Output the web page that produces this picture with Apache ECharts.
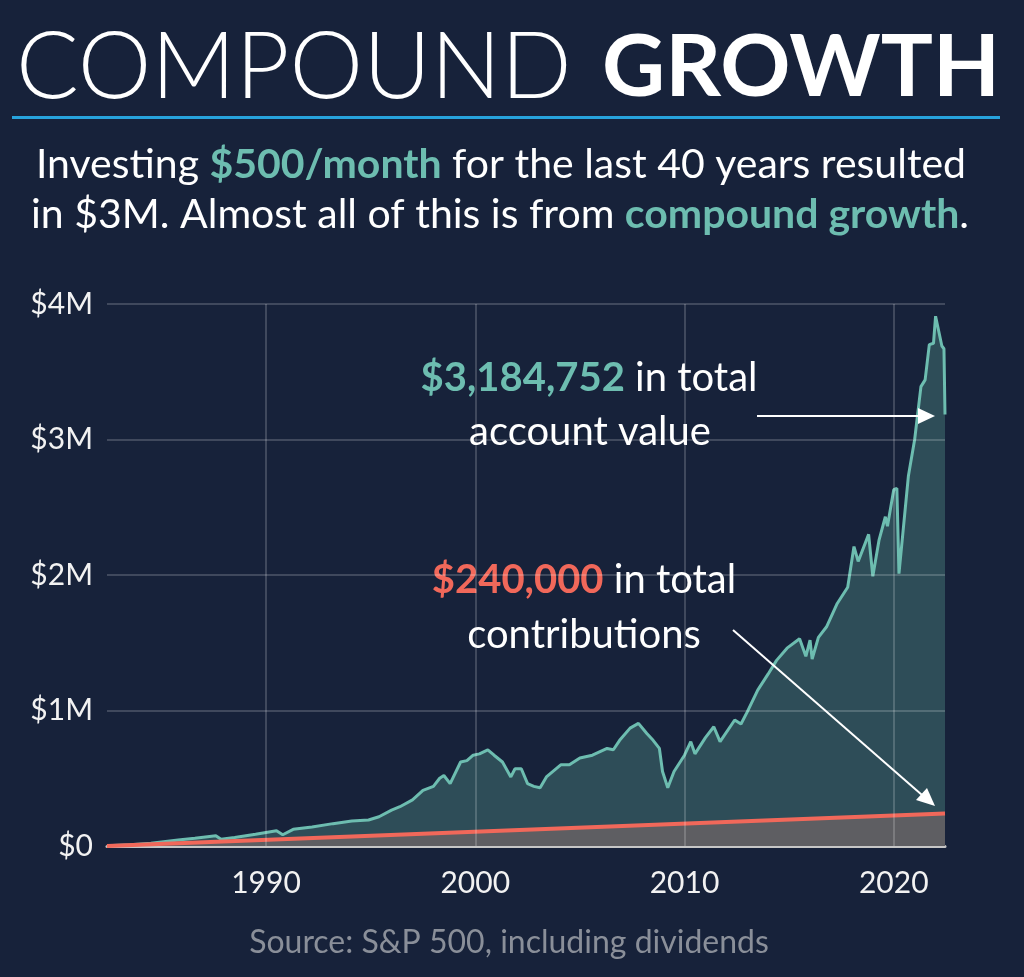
<!DOCTYPE html>
<html>
<head>
<meta charset="utf-8">
<script src="https://cdn.jsdelivr.net/npm/echarts@6/dist/echarts.min.js"></script>
<style>
  html, body { margin: 0; padding: 0; background: #17223a; }
  #main { width: 1024px; height: 977px; }
</style>
</head>
<body>
<div id="main"></div>
<script>
var myChart = echarts.init(document.getElementById('main'));

// account value (year, $ millions)
var valueYears = [1982.40, 1983.5, 1984.5, 1985.8, 1986.6, 1987.6, 1987.85, 1988.5, 1989.5, 1990.5,
  1990.8, 1991.3, 1992.2, 1993.2, 1994.1, 1994.9, 1995.4, 1996.0, 1996.4, 1997.0,
  1997.5, 1998.0, 1998.3, 1998.5, 1998.8, 1999.3, 1999.6, 1999.9, 2000.2, 2000.6,
  2000.9, 2001.3, 2001.7, 2001.9, 2002.2, 2002.5, 2002.8, 2003.1, 2003.4, 2004.1,
  2004.5, 2005.0, 2005.6, 2006.3, 2006.6, 2006.9, 2007.4, 2007.8, 2008.2, 2008.5,
  2008.8, 2008.95, 2009.2, 2009.5, 2010.0, 2010.3, 2010.5, 2011.0, 2011.4, 2011.7,
  2012.4, 2012.7, 2013.0, 2013.5, 2014.0, 2014.4, 2014.9, 2015.5, 2015.8, 2016.0,
  2016.1, 2016.4, 2016.8, 2017.3, 2017.8, 2018.1, 2018.3, 2018.8, 2019.0, 2019.3,
  2019.6, 2019.7, 2020.0, 2020.15, 2020.25, 2020.7, 2021.0, 2021.3, 2021.5, 2021.7,
  2021.9, 2022.0, 2022.3, 2022.4, 2022.45];
var accountValue = [0.002, 0.010, 0.020, 0.044, 0.058, 0.076, 0.050, 0.062, 0.086, 0.112,
  0.083, 0.123, 0.140, 0.165, 0.185, 0.192, 0.216, 0.265, 0.290, 0.340,
  0.410, 0.440, 0.500, 0.520, 0.460, 0.620, 0.630, 0.670, 0.680, 0.710,
  0.670, 0.620, 0.510, 0.570, 0.570, 0.460, 0.440, 0.430, 0.510, 0.600,
  0.600, 0.650, 0.670, 0.720, 0.710, 0.780, 0.870, 0.905, 0.830, 0.780,
  0.720, 0.550, 0.430, 0.550, 0.670, 0.770, 0.680, 0.800, 0.880, 0.770,
  0.930, 0.900, 0.990, 1.150, 1.270, 1.370, 1.460, 1.530, 1.400, 1.520,
  1.380, 1.540, 1.620, 1.790, 1.910, 2.210, 2.100, 2.300, 1.990, 2.260,
  2.430, 2.360, 2.630, 2.640, 2.010, 2.730, 3.000, 3.390, 3.440, 3.700,
  3.710, 3.910, 3.690, 3.670, 3.185];

// total contributions ($500/month)
var contribYears = [1982.40, 2022.45];
var contributions = [0, 0.24];

var xTicks = [1990, 2000, 2010, 2020];
var yTicks = [0, 1, 2, 3, 4];

var bg = '#17223a';
var teal = '#6dbdb0';
var coral = '#f1685a';
var font = 'Lato';

function pairs(xs, ys) {
  return xs.map(function (x, i) { return [x, ys[i]]; });
}

var gridLines = xTicks.map(function (v) { return { xAxis: v }; })
  .concat(yTicks.slice(1).map(function (v) { return { yAxis: v }; }));

option = {
  backgroundColor: bg,
  animation: false,
  textStyle: { fontFamily: font },
  grid: { left: 107, right: 79, top: 304, bottom: 131 },
  xAxis: {
    type: 'value',
    min: 1982.4,
    max: 2022.45,
    splitLine: { show: false },
    axisTick: { show: false },
    axisLine: { show: true, lineStyle: { color: '#c6c6c6', width: 3 } },
    axisLabel: {
      customValues: xTicks,
      color: '#f2f2f2',
      fontSize: 30,
      fontFamily: font,
      margin: 22,
      formatter: function (v) { return String(v); }
    }
  },
  yAxis: {
    type: 'value',
    min: 0,
    max: 4,
    interval: 1,
    splitLine: { show: false },
    axisLine: { show: false },
    axisTick: { show: false },
    axisLabel: {
      color: '#f2f2f2',
      fontSize: 30,
      fontFamily: font,
      margin: 14,
      formatter: function (v) { return v === 0 ? '$0' : '$' + v + 'M'; }
    }
  },
  series: [
    {
      name: 'account value',
      type: 'line',
      data: pairs(valueYears, accountValue),
      showSymbol: false,
      z: 2,
      lineStyle: { color: teal, width: 3 },
      areaStyle: { color: '#2e4d58', opacity: 1 },
      emphasis: { disabled: true }
    },
    {
      name: 'contributions',
      type: 'line',
      data: pairs(contribYears, contributions),
      showSymbol: false,
      z: 3,
      lineStyle: { color: coral, width: 4 },
      areaStyle: { color: '#5e5e62', opacity: 1 },
      emphasis: { disabled: true },
      markLine: {
        silent: true,
        symbol: 'none',
        label: { show: false },
        lineStyle: { color: 'rgba(255,255,255,0.18)', width: 2, type: 'solid' },
        data: gridLines
      }
    }
  ],
  graphic: [
    {
      type: 'text', left: 16, top: 21,
      style: { text: 'COMPOUND', fontFamily: font, fontWeight: 300, fontSize: 93, fill: '#ffffff' }
    },
    {
      type: 'text', right: 24, top: 24,
      style: { text: 'GROWTH', fontFamily: font, fontWeight: 'bold', fontSize: 87, fill: '#ffffff' }
    },
    {
      type: 'rect',
      shape: { x: 12, y: 116, width: 988, height: 3 },
      style: { fill: '#27a3dc' }
    },
    {
      type: 'text', x: 501, y: 165,
      style: {
        text: '{w|Investing }{g|$500/month}{w| for the last 40 years resulted}',
        align: 'center', verticalAlign: 'middle',
        rich: {
          w: { fontFamily: font, fontSize: 41, fill: '#ffffff' },
          g: { fontFamily: font, fontSize: 41, fontWeight: 'bold', fill: teal }
        }
      }
    },
    {
      type: 'text', x: 500, y: 215,
      style: {
        text: '{w|in $3M. Almost all of this is from }{g|compound growth}{w|.}',
        align: 'center', verticalAlign: 'middle',
        rich: {
          w: { fontFamily: font, fontSize: 41, fill: '#ffffff' },
          g: { fontFamily: font, fontSize: 41, fontWeight: 'bold', fill: teal }
        }
      }
    },
    {
      type: 'text', x: 589, y: 378,
      style: {
        text: '{g|$3,184,752}{w| in total}',
        align: 'center', verticalAlign: 'middle',
        rich: {
          w: { fontFamily: font, fontSize: 40, fill: '#ffffff' },
          g: { fontFamily: font, fontSize: 40, fontWeight: 'bold', fill: teal }
        }
      }
    },
    {
      type: 'text', x: 590, y: 432,
      style: {
        text: 'account value', align: 'center', verticalAlign: 'middle',
        fontFamily: font, fontSize: 40, fill: '#ffffff'
      }
    },
    {
      type: 'text', x: 584, y: 580,
      style: {
        text: '{r|$240,000}{w| in total}',
        align: 'center', verticalAlign: 'middle',
        rich: {
          w: { fontFamily: font, fontSize: 40, fill: '#ffffff' },
          r: { fontFamily: font, fontSize: 40, fontWeight: 'bold', fill: coral }
        }
      }
    },
    {
      type: 'text', x: 584, y: 635,
      style: {
        text: 'contributions', align: 'center', verticalAlign: 'middle',
        fontFamily: font, fontSize: 40, fill: '#ffffff'
      }
    },
    {
      type: 'line', z: 100,
      shape: { x1: 757, y1: 416, x2: 920, y2: 416 },
      style: { stroke: '#ffffff', lineWidth: 2 }
    },
    {
      type: 'polygon', z: 100,
      shape: { points: [[935, 416], [918, 408], [918, 424]] },
      style: { fill: '#ffffff' }
    },
    {
      type: 'line', z: 100,
      shape: { x1: 733, y1: 630, x2: 922, y2: 795 },
      style: { stroke: '#ffffff', lineWidth: 2 }
    },
    {
      type: 'polygon', z: 100,
      shape: { points: [[935, 806], [916, 800], [927, 788]] },
      style: { fill: '#ffffff' }
    },
    {
      type: 'text', x: 509, y: 943,
      style: {
        text: 'Source: S&P 500, including dividends', align: 'center', verticalAlign: 'middle',
        fontFamily: font, fontSize: 32, fill: '#8a8f99'
      }
    }
  ]
};

myChart.setOption(option);
</script>
</body>
</html>
